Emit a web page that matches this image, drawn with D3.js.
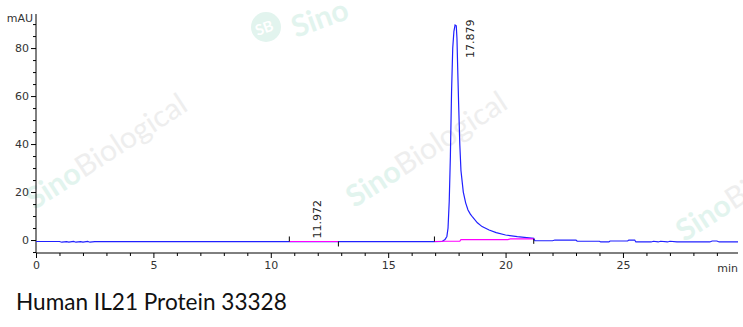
<!DOCTYPE html>
<html><head><meta charset="utf-8">
<script src="https://cdn.jsdelivr.net/npm/d3@7"></script>
<style>body{margin:0;background:#fff}svg{display:block}</style>
</head><body>
<svg id="c" width="743" height="327"></svg>
<script>
// ---- data ----
const times = [0,1.0,1.1,1.3,1.4,1.6,1.7,1.9,2.0,2.2,2.3,2.5,3,6,10.8,12.9,16.9,17.3,17.42,17.5,17.55,17.6,17.65,17.7,17.75,17.8,17.85,17.9,17.93,17.96,18.0,18.05,18.1,18.2,18.3,18.4,18.5,18.6,18.8,19.0,19.3,19.6,20.0,20.5,21.0,21.2,21.25,21.6,22.0,22.1,23.0,23.05,24.0,24.05,24.4,24.45,25.2,25.25,25.5,25.55,26.2,26.3,26.5,26.6,26.9,27.0,27.3,27.4,28.7,28.8,29.0,29.1,29.9];
const signal = [-0.6,-0.6,-0.9,-0.7,-0.9,-0.6,-0.9,-0.7,-0.9,-0.6,-0.9,-0.7,-0.7,-0.7,-0.7,-0.7,-0.7,-0.6,0.2,1.5,5,16,35,62,80,87,89.6,89.3,84,72,57,40,29,20,15.5,12.5,10.8,9.5,7.2,5.6,4.2,3.1,2.1,1.4,0.9,0.7,-0.3,-0.3,-0.3,0,0,-0.5,-0.5,-0.8,-0.8,-0.4,-0.4,0,0,-0.8,-0.8,-0.5,-0.8,-0.5,-0.8,-0.5,-0.8,-0.8,-0.8,-0.4,-0.4,-0.8,-0.8];
const base1T = [10.79,12.88];
const base1V = [-0.6,-0.6];
const base2T = [16.97,17.42,18.05,18.1,20.1,20.2,21.2];
const base2V = [-0.6,-0.5,-0.5,0.2,0.2,0.5,0.5];
const peakLabels = ["11.972","17.879"];
const peakTimes = [11.972,17.879];
const peakHeights = [-0.6,89.6];
const xTicks = [0,5,10,15,20,25];
const yTicks = [0,20,40,60,80];
const title = "Human IL21 Protein 33328";

// ---- layout ----
const svg = d3.select("#c");
const x = d3.scaleLinear().domain([0,29.9]).range([36,738]);
const y = d3.scaleLinear().domain([-5.4,94.2]).range([253,14]);

// watermarks
svg.append("clipPath").attr("id","clipAll").append("rect").attr("x",0).attr("y",0).attr("width",743).attr("height",327);
const wm = svg.append("g").attr("clip-path","url(#clipAll)").attr("font-family","Lato, 'Open Sans', sans-serif").attr("font-size",30);
[[112,160],[432,158],[762,192]].forEach(([cx,cy])=>{
  const t = wm.append("text").attr("transform",`translate(${cx},${cy}) rotate(-33)`).attr("text-anchor","middle");
  t.append("tspan").attr("font-weight","bold").attr("fill","#e2f4ee").text("Sino");
  t.append("tspan").attr("fill","#eeeeee").text("Biological");
});
wm.append("circle").attr("cx",266).attr("cy",27).attr("r",15).attr("fill","#e2f4ee");
wm.append("text").attr("transform","translate(266,33) rotate(-20)").attr("text-anchor","middle").attr("font-size",15).attr("font-weight","bold").attr("fill","#fff").text("SB");
wm.append("text").attr("transform","translate(296,38) rotate(-20)").attr("font-size",30).attr("font-weight","bold").attr("fill","#e2f4ee").text("Sino");

const fontTick = "'DejaVu Sans', Verdana, sans-serif";

// x axis
const xAxis = d3.axisBottom(x).tickValues(xTicks).tickSize(5).tickFormat(d3.format("d"));
const gx = svg.append("g").attr("transform","translate(0,253)").call(xAxis);
gx.select(".domain").attr("d",`M36,0H738`).attr("stroke","#000");
gx.selectAll(".tick line").attr("stroke","#000");
gx.selectAll("text").attr("font-family",fontTick).attr("font-size",11).attr("fill","#333").attr("dy","0.71em").attr("y",8);
const xMinor = d3.axisBottom(x).tickValues(d3.range(0,30,1).filter(v=>v%5)).tickSize(3).tickFormat("");
const gxm = svg.append("g").attr("transform","translate(0,253)").call(xMinor);
gxm.select(".domain").remove();
gxm.selectAll(".tick line").attr("stroke","#000");
svg.append("text").attr("x",738).attr("y",272).attr("text-anchor","end").attr("font-family",fontTick).attr("font-size",11).attr("fill","#333").text("min");

// y axis
const yAxis = d3.axisLeft(y).tickValues(yTicks).tickSize(5).tickFormat(d3.format("d"));
const gy = svg.append("g").attr("transform","translate(36,0)").call(yAxis);
gy.select(".domain").attr("d","M0,14V253").attr("stroke","#000");
gy.selectAll(".tick line").attr("stroke","#000");
gy.selectAll("text").attr("font-family",fontTick).attr("font-size",11).attr("fill","#333").attr("x",-7);
const yMinor = d3.axisLeft(y).tickValues(d3.range(-5,95,5).filter(v=>v%20)).tickSize(3).tickFormat("");
const gym = svg.append("g").attr("transform","translate(36,0)").call(yMinor);
gym.select(".domain").remove();
gym.selectAll(".tick line").attr("stroke","#000");
svg.append("text").attr("x",33).attr("y",22).attr("text-anchor","end").attr("font-family",fontTick).attr("font-size",11).attr("fill","#333").text("mAU");

// signal and integration baselines
const line = d3.line().x(d=>x(d[0])).y(d=>y(d[1]));
svg.append("path").datum(times.map((t,i)=>[t,signal[i]])).attr("d",line).attr("fill","none").attr("stroke","#2020ff").attr("stroke-width",1.2);
svg.append("path").datum(base1T.map((t,i)=>[t,base1V[i]])).attr("d",line).attr("fill","none").attr("stroke","#ff00ff").attr("stroke-width",1.2);
svg.append("path").datum(base2T.map((t,i)=>[t,base2V[i]])).attr("d",line).attr("fill","none").attr("stroke","#ff00ff").attr("stroke-width",1.2);

// peak start/end marks
const marks = [[base1T[0],-1,base1V[0]],[base1T[1],1,base1V[1]],[base2T[0],-1,base2V[0]],[base2T[base2T.length-1],1,base2V[base2V.length-1]]];
marks.forEach(([t,dir,v])=>{
  const yy = y(v);
  svg.append("line").attr("x1",x(t)).attr("x2",x(t)).attr("y1",yy).attr("y2",yy+dir*5).attr("stroke","#000").attr("stroke-width",1);
});

// peak labels (pushed right and down if the peak is too tall)
peakLabels.forEach((lab,i)=>{
  let px = x(peakTimes[i])+4, py = y(peakHeights[i])-3;
  if (py < 60) { px = x(peakTimes[i])+18; py = 58; }
  svg.append("text").attr("transform",`translate(${px},${py}) rotate(-90)`).attr("font-family",fontTick).attr("font-size",11).attr("fill","#222").text(lab);
});

// title
svg.append("text").attr("x",16).attr("y",310).attr("font-family","Lato, 'Open Sans', sans-serif").attr("font-size",22.6).attr("fill","#111").text(title);
</script>
</body></html>
